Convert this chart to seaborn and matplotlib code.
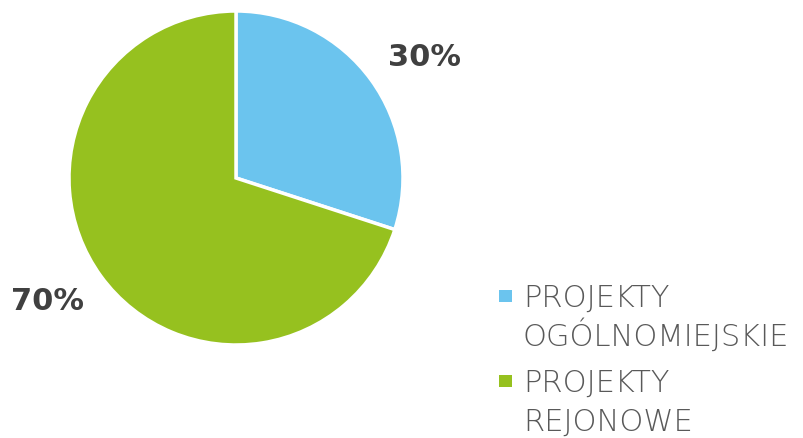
import matplotlib
matplotlib.use("Agg")
import matplotlib.pyplot as plt
import seaborn as sns
from matplotlib.patches import Rectangle

labels = ["PROJEKTY\nOGÓLNOMIEJSKIE", "PROJEKTY\nREJONOWE"]
values = [30, 70]
colors = ["#6BC4EE", "#96C11F"]

sns.set_theme(style="white")
plt.rcParams["font.family"] = ["DejaVu Sans"]

fig = plt.figure(figsize=(8.04, 4.39), dpi=100)
W, H = 804, 439
cx, cy, r = 236, 179, 167
ax = fig.add_axes([(cx - r) / W, (H - cy - r) / H, 2 * r / W, 2 * r / H])

wedges, _ = ax.pie(values, colors=colors, startangle=90, counterclock=False,
                   wedgeprops=dict(edgecolor="white", linewidth=2.5))
ax.set_xlim(-1, 1)
ax.set_ylim(-1, 1)
ax.set_aspect("equal")
ax.axis("off")

# percentage labels outside the pie
fig.text(425 / W, 1 - 57 / H, f"{values[0]}%", ha="center", va="center",
         fontsize=22, fontweight="bold", color="#404040")
fig.text(48 / W, 1 - 302 / H, f"{values[1]}%", ha="center", va="center",
         fontsize=22, fontweight="bold", color="#404040")

# legend: square + two-line label, first line aligned with the square
group_top = [307, 392]
for i, (lab, c) in enumerate(zip(labels, colors)):
    base = group_top[i]
    fig.add_artist(Rectangle((499 / W, 1 - (base - 4) / H), 13 / W, 12 / H,
                             transform=fig.transFigure, facecolor=c,
                             edgecolor="none"))
    for j, line in enumerate(lab.split("\n")):
        fig.text(523 / W, 1 - (base + j * 39) / H, line, ha="left",
                 va="baseline", fontsize=22, fontweight="light",
                 color="#595959")

fig.savefig("out.png", dpi=100)
